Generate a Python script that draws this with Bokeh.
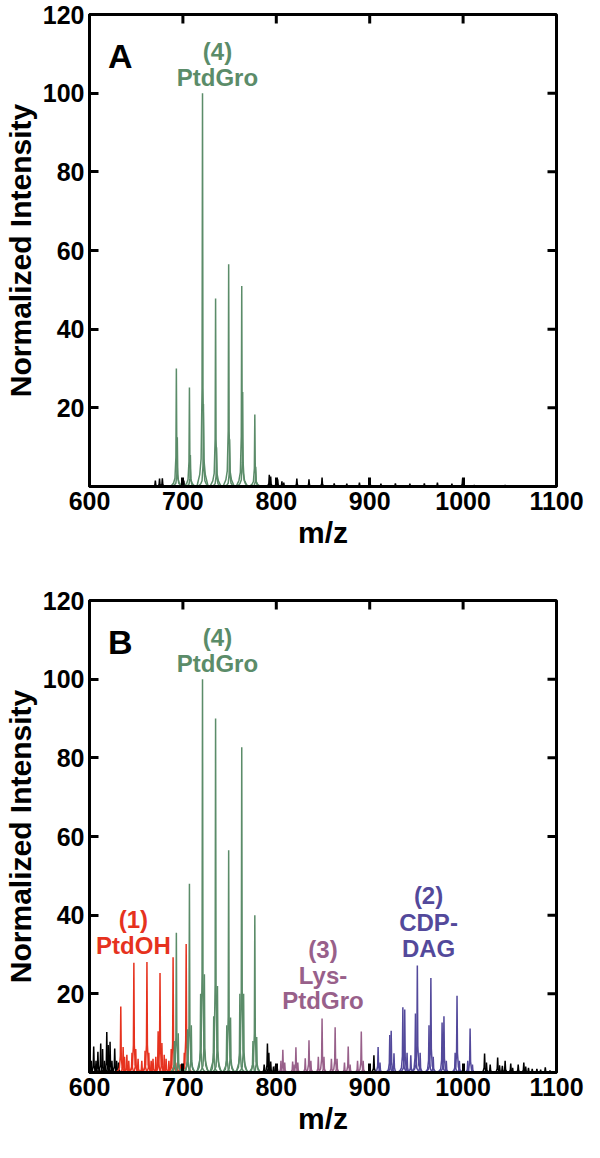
import math
from bokeh.plotting import figure
from bokeh.layouts import column
from bokeh.models import FixedTicker, Range1d, ColumnDataSource
from bokeh.core.properties import value
from bokeh.embed import file_html
from bokeh.resources import INLINE

# ---------------- data (m/z, normalized intensity) ----------------
# Panel A
a_black_mz = [647, 670.5, 675, 678, 699, 701, 792.5, 794, 800, 801.5, 806, 808, 822, 835, 849,
              862, 875.5, 889, 900, 912, 927.5, 943, 958.5, 972.5, 988, 999.5, 1012, 1045]
a_black_int = [0.3, 1.5, 2.0, 2.1, 2.0, 1.5, 3.0, 2.5, 2.1, 1.8, 1.3, 1.0, 2.0, 1.8, 2.3,
               0.8, 0.7, 1.0, 2.0, 0.7, 0.8, 0.7, 0.8, 1.0, 0.7, 2.1, 0.4, 0.4]
a_pg_mz = [693, 694, 707, 708, 721, 722, 735, 736, 749, 750, 763, 764, 777, 778]
a_pg_int = [30.0, 12.5, 25.2, 8.0, 100.0, 21.0, 47.8, 10.0, 56.5, 12.0, 51.0, 24.0, 18.3, 5.0]

# Panel B
b_black_mz = [600.5, 602, 604.5, 607, 609, 612, 614, 616, 618.5, 620, 622, 624, 627, 629, 631,
              698, 700, 787, 790.5, 792, 794, 797, 799, 801, 900, 904.5, 1000,
              1023, 1025, 1029, 1037, 1039, 1042, 1045, 1051, 1053, 1059, 1065, 1067,
              1070, 1074, 1079, 1083, 1088, 1093]
b_black_int = [4.0, 3.0, 6.6, 3.0, 5.3, 7.4, 6.0, 3.0, 10.3, 7.0, 7.8, 3.0, 6.1, 3.0, 2.5,
               2.0, 1.5, 2.0, 7.4, 5.0, 2.8, 1.5, 1.7, 1.2, 1.9, 4.4, 1.7,
               4.8, 2.5, 2.0, 3.8, 1.8, 1.7, 3.0, 2.3, 1.2, 2.0, 2.5, 1.5,
               1.2, 0.9, 0.9, 0.7, 1.3, 0.5]
b_pa_mz = [633.5, 636, 637.5, 640, 642, 645.5, 647.5, 649.5, 652, 656, 659.5, 661.5, 663.5,
           666, 668, 671, 673.5, 675.5, 677.5, 680, 682, 685, 687.5, 689.5, 691.5, 694,
           697, 701.5, 703.5]
b_pa_int = [16.8, 6.5, 4.0, 4.5, 3.0, 5.0, 27.9, 6.0, 3.5, 3.0, 5.5, 28.1, 5.0,
            3.0, 3.5, 4.0, 10.5, 25.3, 7.5, 4.5, 3.5, 3.0, 6.0, 29.3, 5.0, 2.5,
            2.0, 5.0, 32.7]
b_pg_mz = [691, 693, 695, 705, 707, 709, 719, 721, 723, 733, 735, 737, 747, 749, 751,
           761, 763, 765, 775, 777, 779]
b_pg_int = [8.0, 35.5, 10.0, 11.0, 48.0, 12.0, 20.0, 100.0, 25.0, 14.3, 90.0, 22.0, 12.0, 56.5, 14.0,
            20.0, 82.7, 20.0, 8.0, 40.0, 9.0]
b_lpg_mz = [805, 807, 809, 817.5, 819, 821, 823, 831, 835, 837, 845, 849, 851, 859, 863, 865,
            873, 877, 879, 887, 891, 893]
b_lpg_int = [3.0, 5.8, 2.5, 2.8, 2.0, 6.4, 2.5, 3.6, 8.2, 3.0, 4.0, 13.7, 4.0, 3.5, 11.5, 3.5,
             2.5, 6.6, 2.0, 3.0, 10.4, 3.0]
b_cdp_mz = [909, 911, 921.5, 923, 926, 935.5, 937.5, 940, 944, 949, 951, 954, 963.5, 965.5,
            968, 977.5, 979.5, 982, 991.5, 993.5, 996, 1005, 1007.5, 1010]
b_cdp_int = [6.5, 2.5, 9.5, 10.6, 4.9, 16.6, 16.0, 5.0, 4.4, 15.0, 27.2, 5.0, 12.0, 24.0,
             4.0, 12.7, 14.3, 3.0, 5.0, 19.5, 3.0, 3.0, 11.2, 2.0]

x_ticks = [600, 700, 800, 900, 1000, 1100]
y_ticks = [20, 40, 60, 80, 100, 120]

# ---------------- style ----------------
FONT = "Liberation Sans"
GREEN = "#5b8c69"
RED = "#e6321e"
PURPLE = "#98608a"
BLUE = "#53499b"
BLACK = "#000000"
X0, X1, Y0, Y1 = 600, 1100, 0, 120

# peak drawing template (shape of one peak, style only)
PEAK_DX = [-6.0, -3.0, -1.5, -0.5, 0.0, 0.5, 1.5, 3.0, 6.0]
PEAK_FR = [0.0, 0.03, 0.07, 0.25, 1.0, 0.25, 0.07, 0.03, 0.0]


def peak_source(mz, inten):
    xs, ys = [], []
    for m, h in zip(mz, inten):
        xs.append([m + d for d in PEAK_DX])
        ys.append([h * f for f in PEAK_FR])
    return ColumnDataSource(dict(xs=xs, ys=ys))


def style_axis(ax, ticks):
    ax.ticker = FixedTicker(ticks=ticks)
    ax.axis_line_width = 3
    ax.axis_line_color = "black"
    ax.major_tick_in = 9
    ax.major_tick_out = 0
    ax.major_tick_line_width = 3
    ax.major_tick_line_color = "black"
    ax.minor_tick_in = 0
    ax.minor_tick_out = 0
    ax.minor_tick_line_color = None
    ax.major_label_text_font = FONT
    ax.major_label_text_font_style = "bold"
    ax.major_label_text_color = "black"
    ax.major_label_text_font_size = "25px"
    ax.major_label_standoff = 5
    ax.axis_label_text_font = FONT
    ax.axis_label_text_font_size = "30px"
    ax.axis_label_text_font_style = "bold"
    ax.axis_label_text_color = "black"
    ax.axis_label_standoff = 3


def make_panel(height, b_bottom, series, letter, labels):
    p = figure(width=584, height=height, x_range=Range1d(X0, X1), y_range=Range1d(Y0, Y1),
               output_backend="svg", toolbar_location=None,
               min_border_left=86, min_border_right=28,
               min_border_top=14, min_border_bottom=b_bottom)
    p.xgrid.visible = False
    p.ygrid.visible = False
    p.outline_line_color = "black"
    p.outline_line_width = 3
    p.background_fill_color = "white"
    p.border_fill_color = "white"

    style_axis(p.xaxis[0], x_ticks)
    style_axis(p.yaxis[0], y_ticks)
    p.xaxis[0].axis_label = "m/z"
    p.yaxis[0].axis_label = "Normalized Intensity"

    # inward ticks on the top and right frame edges (half of each dash is clipped)
    p.scatter(x=x_ticks, y=[Y1] * len(x_ticks), marker="dash", angle=math.pi / 2,
              size=18, line_width=3, line_color="black")
    p.scatter(x=[X1] * len(y_ticks), y=y_ticks, marker="dash",
              size=18, line_width=3, line_color="black")

    for mz, inten, color in series:
        p.multi_line("xs", "ys", source=peak_source(mz, inten), line_color=color, line_width=1.5)

    p.text(x=[633], y=[109.5], text=[letter], text_font=value(FONT), text_font_style="bold",
           text_font_size="34px", text_align="center", text_baseline="middle", text_color="black")
    for x, y, t, c in labels:
        p.text(x=[x], y=[y], text=[t], text_font=value(FONT), text_font_style="bold",
               text_font_size="24px", text_align="center", text_baseline="middle", text_color=c)
    return p


pA = make_panel(586, 100,
                [(a_black_mz, a_black_int, BLACK), (a_pg_mz, a_pg_int, GREEN)],
                "A",
                [(737, 110.5, "(4)", GREEN), (737, 104.0, "PtdGro", GREEN)])

pB = make_panel(556, 70,
                [(b_black_mz, b_black_int, BLACK), (b_pa_mz, b_pa_int, RED),
                 (b_pg_mz, b_pg_int, GREEN), (b_lpg_mz, b_lpg_int, PURPLE),
                 (b_cdp_mz, b_cdp_int, BLUE)],
                "B",
                [(737, 110.5, "(4)", GREEN), (737, 104.0, "PtdGro", GREEN),
                 (647, 38.9, "(1)", RED), (647, 32.2, "PtdOH", RED),
                 (850, 31.3, "(3)", PURPLE), (850, 24.7, "Lys-", PURPLE), (850, 18.2, "PtdGro", PURPLE),
                 (963, 44.9, "(2)", BLUE), (963, 38.2, "CDP-", BLUE), (963, 31.6, "DAG", BLUE)])

layout = column(pA, pB, spacing=0)
open("out.html", "w").write(file_html(layout, INLINE))
